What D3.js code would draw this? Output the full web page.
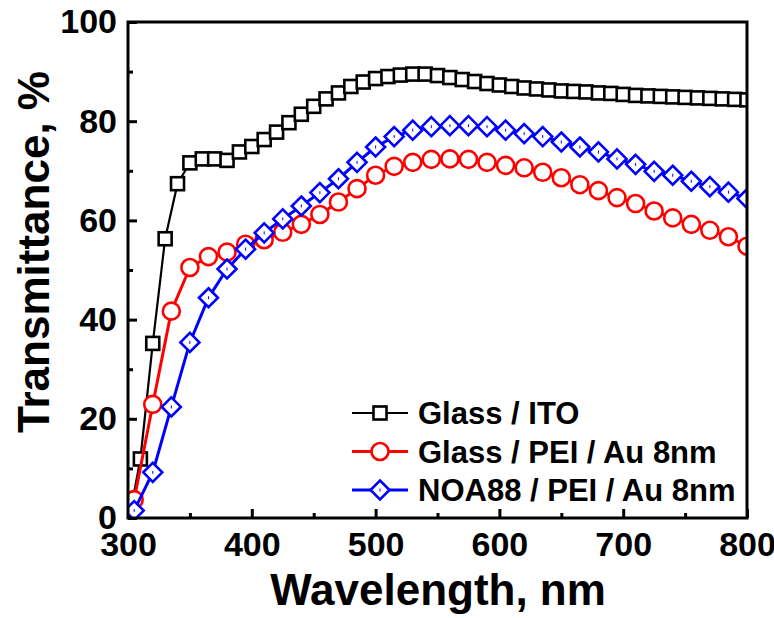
<!DOCTYPE html>
<html>
<head>
<meta charset="utf-8">
<script src="https://cdn.jsdelivr.net/npm/d3@7/dist/d3.min.js"></script>
<style>
body { margin: 0; background: #fff; }
text { font-family: "Liberation Sans", Arial, sans-serif; font-weight: bold; fill: #000; }
</style>
</head>
<body>
<div id="chart"></div>
<script>
// wavelengths (nm) and transmittance (%)
var itoWl = [300,310,320,330,340,350,360,370,380,390,400,410,420,430,440,450,460,470,480,490,500,
             510,520,530,540,550,560,570,580,590,600,610,620,630,640,650,660,670,680,690,700,
             710,720,730,740,750,760,770,780,790,800];
var itoT = [-1.5,11.9,35.2,56.3,67.4,71.6,72.4,72.4,72.1,73.8,74.9,76.3,77.8,79.7,81.4,83.0,84.5,85.7,87.0,87.9,88.6,
            89.0,89.3,89.5,89.5,89.2,88.8,88.4,88.0,87.6,87.3,87.0,86.7,86.5,86.3,86.1,86.0,85.9,85.7,85.6,85.4,
            85.2,85.1,85.0,84.9,84.8,84.7,84.6,84.5,84.4,84.3];

var auWl = [305,320,335,350,365,380,395,410,425,440,455,470,485,500,515,530,545,560,575,590,
            605,620,635,650,665,680,695,710,725,740,755,770,785,800];
var glassAuT = [3.7,22.9,41.7,50.5,52.7,53.6,55.2,56.1,57.6,59.2,61.2,63.7,66.4,69.1,70.9,71.7,72.3,72.4,72.3,71.7,
                71.1,70.6,69.7,68.6,67.2,66.0,64.6,63.4,61.9,60.5,59.2,58.0,56.7,54.8];
var noaAuT = [1.5,9.2,22.4,35.4,44.4,50.2,54.2,57.5,60.3,62.9,65.6,68.4,71.7,74.8,76.9,78.2,78.9,79.1,79.1,78.9,
              78.2,77.5,76.9,75.8,74.8,73.8,72.4,71.3,69.9,69.1,67.9,66.8,65.7,64.4];

var seriesNames = ["Glass / ITO", "Glass / PEI / Au 8nm", "NOA88 / PEI / Au 8nm"];
var seriesColors = ["#000000", "#ff0000", "#0000ff"];
var seriesShapes = ["square", "circle", "diamond"];

var xTicks = [300,400,500,600,700,800];
var xMinor = [350,450,550,650,750];
var yTicks = [0,20,40,60,80,100];
var yMinor = [10,30,50,70,90];

var width = 774, height = 618;
var svg = d3.select("#chart").append("svg")
    .attr("width", width)
    .attr("height", height);

var x = d3.scaleLinear().domain([300, 800]).range([128, 747]);
var y = d3.scaleLinear().domain([0, 100]).range([518, 22]);

var series = [
    { wl: itoWl, t: itoT },
    { wl: auWl, t: glassAuT },
    { wl: auWl, t: noaAuT }
].map(function(s, i) {
    s.name = seriesNames[i];
    s.color = seriesColors[i];
    s.shape = seriesShapes[i];
    s.points = s.wl.map(function(w, j) { return [w, s.t[j]]; });
    return s;
});

svg.append("clipPath").attr("id", "plotclip")
    .append("rect")
    .attr("x", x(300)).attr("y", y(100))
    .attr("width", x(800) - x(300)).attr("height", y(0) - y(100));

// axes ticks (inward)
var gx = svg.append("g").attr("transform", "translate(0," + y(0) + ")");
gx.call(d3.axisBottom(x).tickValues(xTicks).tickSize(-9).tickPadding(14));
gx.append("g").call(d3.axisBottom(x).tickValues(xMinor).tickSize(-5).tickFormat(""));
var gy = svg.append("g").attr("transform", "translate(" + x(300) + ",0)");
gy.call(d3.axisLeft(y).tickValues(yTicks).tickSize(-9).tickPadding(11));
gy.append("g").call(d3.axisLeft(y).tickValues(yMinor).tickSize(-5).tickFormat(""));
svg.selectAll(".domain").remove();
svg.selectAll(".tick line").attr("stroke", "#000").attr("stroke-width", 3);
svg.selectAll(".tick text").style("font-size", "34px").attr("fill", "#000");

function drawMarker(g, shape, color) {
    if (shape === "square") {
        g.append("rect").attr("x", -6.5).attr("y", -6.5).attr("width", 13).attr("height", 13)
            .attr("fill", "#fff").attr("stroke", color).attr("stroke-width", 2.6);
    } else if (shape === "circle") {
        g.append("circle").attr("r", 8.5)
            .attr("fill", "#fff").attr("stroke", color).attr("stroke-width", 2.6);
    } else {
        g.append("path").attr("d", "M0,-9.5L9.5,0L0,9.5L-9.5,0Z")
            .attr("fill", "#fff").attr("stroke", color).attr("stroke-width", 2.6);
        g.append("rect").attr("x", -0.5).attr("y", -1.5).attr("width", 1).attr("height", 3)
            .attr("fill", color);
    }
}

var line = d3.line().x(function(d) { return x(d[0]); }).y(function(d) { return y(d[1]); });
var plot = svg.append("g").attr("clip-path", "url(#plotclip)");

series.forEach(function(s, i) {
    var g = plot.append("g");
    g.append("path").datum(s.points)
        .attr("d", line)
        .attr("fill", "none")
        .attr("stroke", s.color)
        .attr("stroke-width", i === 0 ? 2.2 : 3);
    // first ITO point lies under the axis and only carries the line
    var marked = i === 0 ? s.points.slice(1) : s.points;
    g.selectAll("g.m").data(marked).enter().append("g")
        .attr("class", "m")
        .attr("transform", function(d) { return "translate(" + x(d[0]) + "," + y(d[1]) + ")"; })
        .each(function() { drawMarker(d3.select(this), s.shape, s.color); });
});

// frame
svg.append("rect")
    .attr("x", x(300)).attr("y", y(100))
    .attr("width", x(800) - x(300)).attr("height", y(0) - y(100))
    .attr("fill", "none").attr("stroke", "#000").attr("stroke-width", 3);

// legend
var legend = svg.append("g");
series.forEach(function(s, i) {
    var ly = 413 + i * 38.5;
    var lg = legend.append("g").attr("transform", "translate(0," + ly + ")");
    lg.append("line").attr("x1", 352).attr("x2", 408)
        .attr("stroke", s.color).attr("stroke-width", i === 0 ? 2.2 : 3);
    drawMarker(lg.append("g").attr("transform", "translate(380,0)"), s.shape, s.color);
    lg.append("text").attr("x", 418).attr("y", 0).attr("dy", "0.36em")
        .style("font-size", "31px").text(s.name);
});

// axis titles
svg.append("text")
    .attr("x", 438).attr("y", 605)
    .attr("text-anchor", "middle")
    .style("font-size", "44px")
    .text("Wavelength, nm");
svg.append("text")
    .attr("transform", "translate(49,252) rotate(-90)")
    .attr("text-anchor", "middle")
    .style("font-size", "44px")
    .text("Transmittance, %");
</script>
</body>
</html>
